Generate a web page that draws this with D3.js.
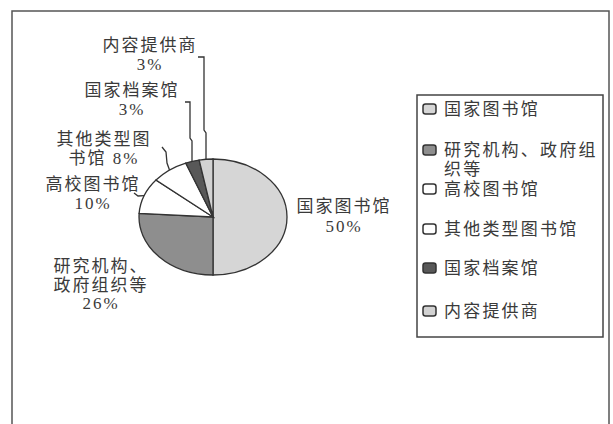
<!DOCTYPE html>
<html><head><meta charset="utf-8">
<script src="https://cdn.jsdelivr.net/npm/d3@7"></script>
<style>
html,body{margin:0;padding:0;background:#fff;}
svg text{font-family:"Liberation Serif","Noto Sans CJK SC",serif;fill:#3a3a3a;}
</style></head>
<body>
<svg id="chart" width="613" height="424"></svg>
<script>
const categories = ["国家图书馆","研究机构、政府组织等","高校图书馆","其他类型图书馆","国家档案馆","内容提供商"];
const values = [50, 26, 10, 8, 3, 3];
const colors = ["#d6d6d6","#8e8e8e","#ffffff","#ffffff","#585858","#d2d2d2"];
// label text lines per slice (as in the picture)
const labelLines = [["国家图书馆","50%"],["研究机构、","政府组织等","26%"],["高校图书馆","10%"],["其他类型图","书馆 8%"],["国家档案馆","3%"],["内容提供商","3%"]];
const legendLines = [["国家图书馆"],["研究机构、政府组","织等"],["高校图书馆"],["其他类型图书馆"],["国家档案馆"],["内容提供商"]];

const svg = d3.select("#chart");
// outer frame
svg.append("rect").attr("x",12).attr("y",11).attr("width",597).attr("height",420)
  .attr("fill","none").attr("stroke","#555").attr("stroke-width",1.5);

const cx = 213, cy = 217, rx = 74, ry = 58;
const pie = d3.pie().sort(null).value(d => d)(values);
const arc = d3.arc().innerRadius(0).outerRadius(rx);
const g = svg.append("g").attr("transform",`translate(${cx},${cy}) scale(1,${ry/rx})`);
g.selectAll("path").data(pie).join("path")
  .attr("d",arc).attr("fill",(d,i)=>colors[i])
  .attr("stroke","#333").attr("stroke-width",1.3)
  .attr("vector-effect","non-scaling-stroke");

function edge(d){ const a=(d.startAngle+d.endAngle)/2; return [cx+rx*Math.sin(a), cy-ry*Math.cos(a)]; }

// labels: [anchor x, first baseline y]
const labelPos = [[344,212],[101,272],[93,190],[104,145],[132,96],[150,51]];
const lineH = [20,18.5,18.5,18.5,18.5,18.5];
labelLines.forEach((lines,i)=>{
  const t = svg.append("text").attr("text-anchor","middle").attr("font-size",17).attr("letter-spacing",2);
  lines.forEach((s,j)=>t.append("tspan").attr("x",labelPos[i][0]).attr("y",labelPos[i][1]+j*lineH[i]).text(s));
});

// leader lines (elbows fixed, end on slice edge)
const leaders = {
  5: [[198,57],[204,57],[204,130],[206,133]],
  4: [[185,102],[190,102],[190,138],[192,141]],
  3: [[162,147],[166,152],[167,163]],
  2: [[134,193],[138,196]]
};
Object.keys(leaders).forEach(k=>{
  const pts = leaders[k].concat([[edge(pie[k])[0], edge(pie[k])[1]]]);
  if(k==5||k==4) pts[pts.length-1][0]=pts[pts.length-2][0];
  svg.append("path").attr("d",d3.line()(pts)).attr("fill","none").attr("stroke","#333").attr("stroke-width",1.3);
});

// legend
svg.append("rect").attr("x",417).attr("y",95).attr("width",186).attr("height",242)
  .attr("fill","#fff").attr("stroke","#444").attr("stroke-width",1.5);
const legY = [115,156,195,235,274,317];
categories.forEach((c,i)=>{
  svg.append("rect").attr("x",423).attr("y",legY[i]-11).attr("width",13).attr("height",10).attr("rx",2.5)
    .attr("fill",colors[i]).attr("stroke","#333").attr("stroke-width",1.5);
  const t = svg.append("text").attr("font-size",17).attr("letter-spacing",2.2);
  legendLines[i].forEach((s,j)=>t.append("tspan").attr("x",444).attr("y",legY[i]+j*18.5).text(s));
});
</script>
</body></html>
